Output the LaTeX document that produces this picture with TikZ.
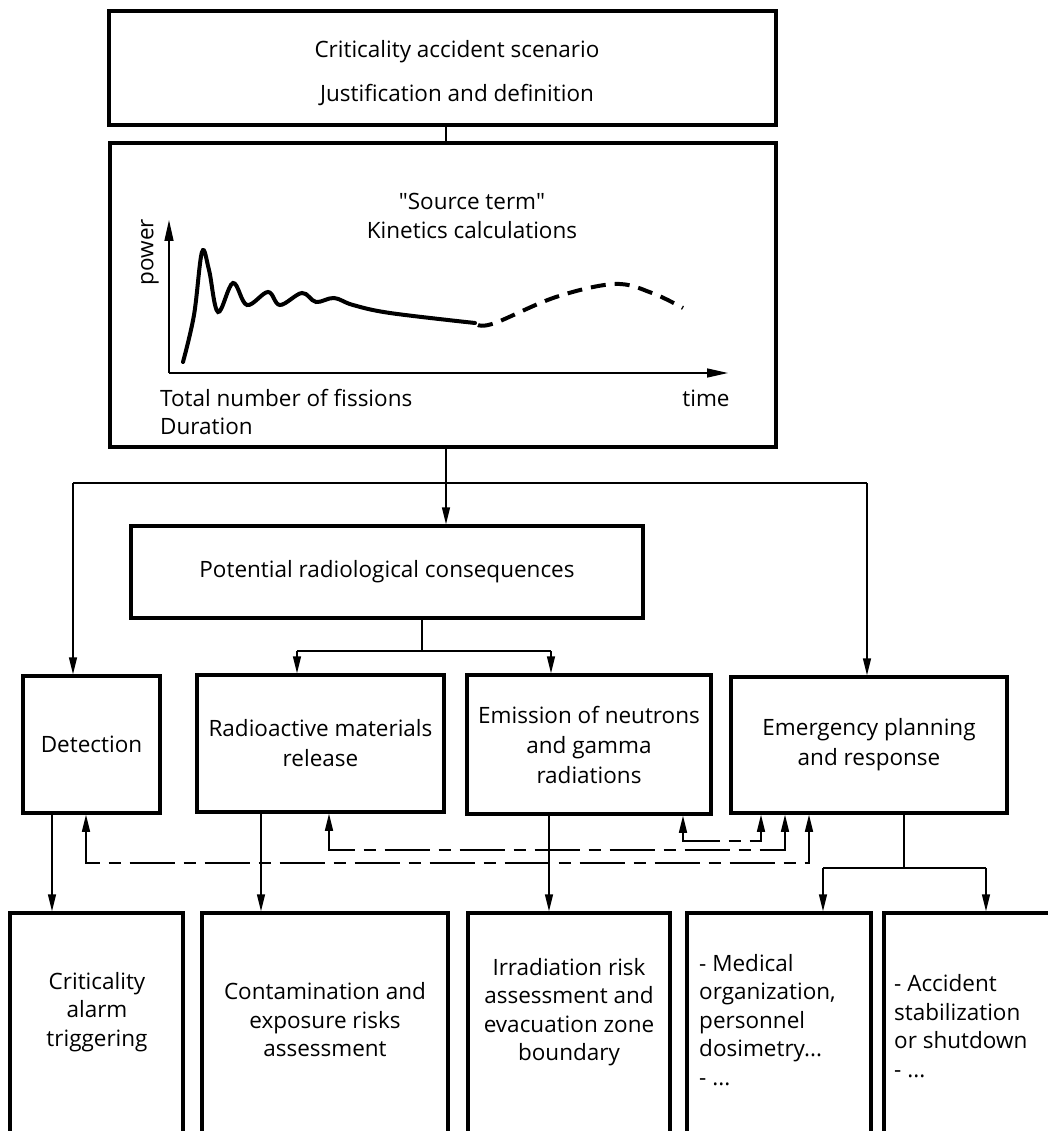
\documentclass[tikz,border=0pt]{standalone}
\usepackage{fontspec}
\setmainfont{Open Sans}
\usetikzlibrary{arrows.meta}

\begin{document}
\begin{tikzpicture}[x=1pt, y=-1pt,
    box/.style ={draw, line width=3.5pt, inner sep=0pt, align=center, font=\fontsize{22.5}{30}\selectfont},
    txt/.style ={inner sep=0pt, align=center, font=\fontsize{22.5}{28.5}\selectfont},
    conn/.style ={line width=1.5pt},
    arr/.style ={conn, -{Triangle[length=17pt, width=8pt]}},
    axis/.style ={conn, -{Triangle[length=21pt, width=9pt]}},
    feedback/.style ={conn, dash pattern=on 45pt off 9pt on 12pt off 9pt,
       {Triangle[length=17pt, width=8pt]}-{Triangle[length=17pt, width=8pt]}}]
   \useasboundingbox (0,0) rectangle (1048,1131);
   \clip (0,0) rectangle (1048,1131);

   % boxes
   \node[box, minimum width=667pt, minimum height=114pt] (scen) at (442.5,68) {};
   \node[box, minimum width=666pt, minimum height=304pt] (src)  at (443,295) {};
   \node[box, minimum width=512pt, minimum height=92pt]  (pot)  at (387,572) {Potential radiological consequences};
   \node[box, minimum width=137pt, minimum height=137pt] (det)  at (91.5,744.5) {Detection};
   \node[box, minimum width=247pt, minimum height=137pt] (rad)  at (320.5,743.5) {Radioactive materials\\release};
   \node[box, minimum width=244pt, minimum height=139pt] (emi)  at (589,744.5) {Emission of neutrons\\and gamma\\radiations};
   \node[box, minimum width=276pt, minimum height=136pt] (emg)  at (869,745) {Emergency planning\\and response};
   \node[box, minimum width=173pt, minimum height=237pt] (crit) at (96.5,1031.5) {};
   \node[box, minimum width=246pt, minimum height=237pt] (cont) at (325,1031.5) {};
   \node[box, minimum width=202pt, minimum height=237pt] (irr)  at (569,1031.5) {};
   \node[box, minimum width=184pt, minimum height=237pt] (med)  at (779,1031.5) {};
   \node[box, minimum width=186pt, minimum height=237pt] (acc)  at (977,1031.5) {};

   % texts
   \node[txt] (scenT) at (457,73) {Criticality accident scenario\\[16pt]Justification and definition};
   \node[txt] (srcT)  at (472,216) {\textquotedbl Source term\textquotedbl\\Kinetics calculations};
   \node[txt, rotate=90] (powT) at (150,252) {power};
   \node[txt, anchor=west, align=left] (fisT) at (160,412) {Total number of fissions\\Duration};
   \node[txt] (timeT) at (706,398) {time};
   \node[txt] (critT) at (97,1012) {Criticality\\alarm\\triggering};
   \node[txt] (contT) at (325,1020) {Contamination and\\exposure risks\\assessment};
   \node[txt] (irrT)  at (569,1012) {Irradiation risk\\assessment and\\evacuation zone\\boundary};
   \node[txt, anchor=west, align=left] (medT) at (699,1020) {- Medical\\organization,\\personnel\\dosimetry...\\- ...};
   \node[txt, anchor=west, align=left] (accT) at (894,1026) {- Accident\\stabilization\\or shutdown\\- ...};

   % kinetics curve
   \coordinate (orig) at (169,373);
   \draw[axis] (orig) -- (169,220);
   \draw[axis] (orig) -- (728,373);
   \draw[line width=4pt, line cap=round] plot[smooth, tension=0.6] coordinates
      {(183,362) (194,315) (202,252) (209,270) (218,312) (233,283) (247,305) (268,292)
       (280,305) (302,293) (316,302) (334,298) (353,305) (390,313) (475,323)};
   \draw[line width=4pt, dash pattern=on 15pt off 9pt] plot[smooth, tension=0.6] coordinates
      {(478,325) (495,323) (556,297) (615,284) (652,293) (683,308)};

   % connectors
   \coordinate (split) at (446,483);
   \draw[conn] (scen.south -| split) -- (src.north -| split);
   \draw[arr] (src.south -| split) -- (pot.north -| split);
   \draw[conn] (split -| 73,0) -- (split -| 867,0);
   \draw[arr] (split -| 73,0) -- (det.north -| 73,0);
   \draw[arr] (split -| 867,0) -- (emg.north -| 867,0);

   \draw[conn] (pot.south -| 422,0) -- ++(0,31) coordinate (psplit);
   \draw[conn] (psplit -| 297,0) -- (psplit -| 551,0);
   \draw[arr] (psplit -| 297,0) -- (rad.north -| 297,0);
   \draw[arr] (psplit -| 551,0) -- (emi.north -| 551,0);

   \draw[arr] (det.south -| 52,0) -- (crit.north -| 52,0);
   \draw[arr] (rad.south -| 261,0) -- (cont.north -| 261,0);
   \draw[arr] (emi.south -| 549,0) -- (irr.north -| 549,0);

   \draw[conn] (emg.south -| 904,0) -- ++(0,53) coordinate (esplit);
   \draw[conn] (esplit -| 823,0) -- (esplit -| 986,0);
   \draw[arr] (esplit -| 823,0) -- (med.north -| 823,0);
   \draw[arr] (esplit -| 986,0) -- (acc.north -| 986,0);

   % feedback to emergency planning
   \draw[feedback] (emi.south -| 683,0) -- ++(0,25) -| (emg.south -| 761,0);
   \draw[feedback] (rad.south -| 329,0) -- ++(0,36) -| (emg.south -| 785,0);
   \draw[feedback] (det.south -| 86,0) -- ++(0,48) -| (emg.south -| 809,0);
\end{tikzpicture}
\end{document}
